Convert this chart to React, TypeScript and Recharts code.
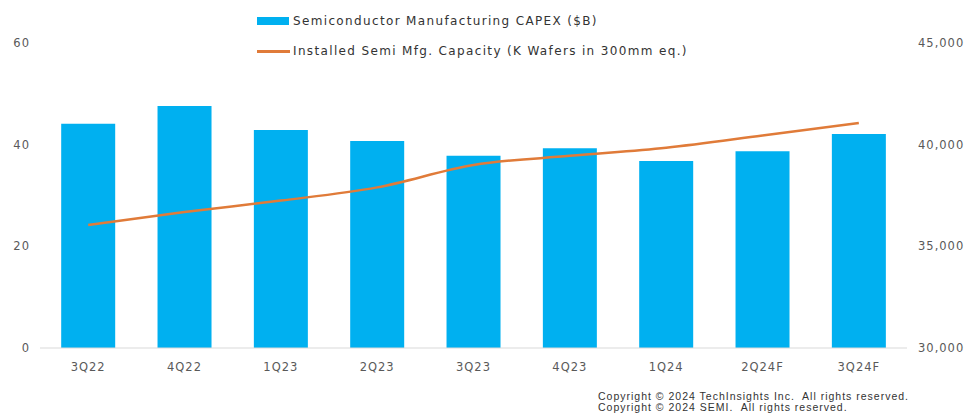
import React from "react";
import { ComposedChart, Bar, Line, XAxis, YAxis, Legend } from "recharts";

const quarters = ["3Q22", "4Q22", "1Q23", "2Q23", "3Q23", "4Q23", "1Q24", "2Q24F", "3Q24F"];
const capex = [44.1, 47.6, 42.9, 40.7, 37.8, 39.3, 36.8, 38.7, 42.1];
const capacity = [36050, 36690, 37250, 37900, 39000, 39450, 39850, 40450, 41070];
const leftTicks = [0, 20, 40, 60];
const rightTicks = [30000, 35000, 40000, 45000];

const CAPEX_NAME = "Semiconductor Manufacturing CAPEX ($B)";
const CAP_NAME = "Installed Semi Mfg. Capacity (K Wafers in 300mm eq.)";

const data = quarters.map((q, i) => ({
  quarter: q,
  [CAPEX_NAME]: capex[i],
  [CAP_NAME]: capacity[i],
}));

const FONT = '"DejaVu Sans", sans-serif';
const tickStyle = { fontSize: 11.5, fill: "#595959", fontFamily: FONT, letterSpacing: 1 };

function ChartLegend() {
  const row = { display: "flex", alignItems: "center", height: 30 } as const;
  const text = { fontFamily: FONT, fontSize: 12, color: "#333", letterSpacing: 1.35, whiteSpace: "nowrap" } as const;
  return (
    <div>
      <div style={row}>
        <span style={{ width: 32, height: 8, background: "#00B0F0", marginRight: 4 }} />
        <span style={text}>{CAPEX_NAME}</span>
      </div>
      <div style={row}>
        <span style={{ width: 33, height: 3, background: "#E07B39", marginRight: 3 }} />
        <span style={text}>{CAP_NAME}</span>
      </div>
    </div>
  );
}

export default function App() {
  return (
    <div style={{ position: "absolute", left: 0, top: 0, width: 968, height: 414, background: "#fff", overflow: "hidden" }}>
      <ComposedChart
        width={968}
        height={414}
        data={data}
        margin={{ top: 43, right: 0, left: 0, bottom: 36 }}
        barCategoryGap="22%"
      >
        <XAxis
          dataKey="quarter"
          height={30}
          tick={tickStyle}
          tickLine={false}
          tickSize={0}
          tickMargin={15}
          axisLine={{ stroke: "#d9d9d9" }}
        />
        <YAxis
          yAxisId="left"
          width={40}
          domain={[0, 60]}
          ticks={leftTicks}
          tick={tickStyle}
          tickLine={false}
          tickSize={0}
          tickMargin={10}
          axisLine={false}
        />
        <YAxis
          yAxisId="right"
          orientation="right"
          width={61}
          domain={[30000, 45000]}
          ticks={rightTicks}
          tick={{ ...tickStyle, textAnchor: "start" }}
          tickLine={false}
          tickSize={0}
          tickMargin={11}
          axisLine={false}
          tickFormatter={(v: number) => v.toLocaleString("en-US")}
        />
        <Legend
          layout="vertical"
          align="center"
          verticalAlign="middle"
          wrapperStyle={{ top: 6, left: 257, width: "auto" }}
          content={() => <ChartLegend />}
        />
        <Bar yAxisId="left" dataKey={CAPEX_NAME} fill="#00B0F0" isAnimationActive={false} />
        <Line
          yAxisId="right"
          type="monotone"
          dataKey={CAP_NAME}
          stroke="#E07B39"
          strokeWidth={2.5}
          dot={false}
          isAnimationActive={false}
        />
      </ComposedChart>
      <div
        style={{
          position: "absolute",
          left: 598,
          top: 391,
          fontFamily: '"Liberation Sans", Arial, sans-serif',
          fontSize: 10.5,
          lineHeight: "11px",
          letterSpacing: 1,
          color: "#333",
          whiteSpace: "pre",
        }}
      >
        {"Copyright © 2024 TechInsights Inc.  All rights reserved.\nCopyright © 2024 SEMI.  All rights reserved."}
      </div>
    </div>
  );
}
